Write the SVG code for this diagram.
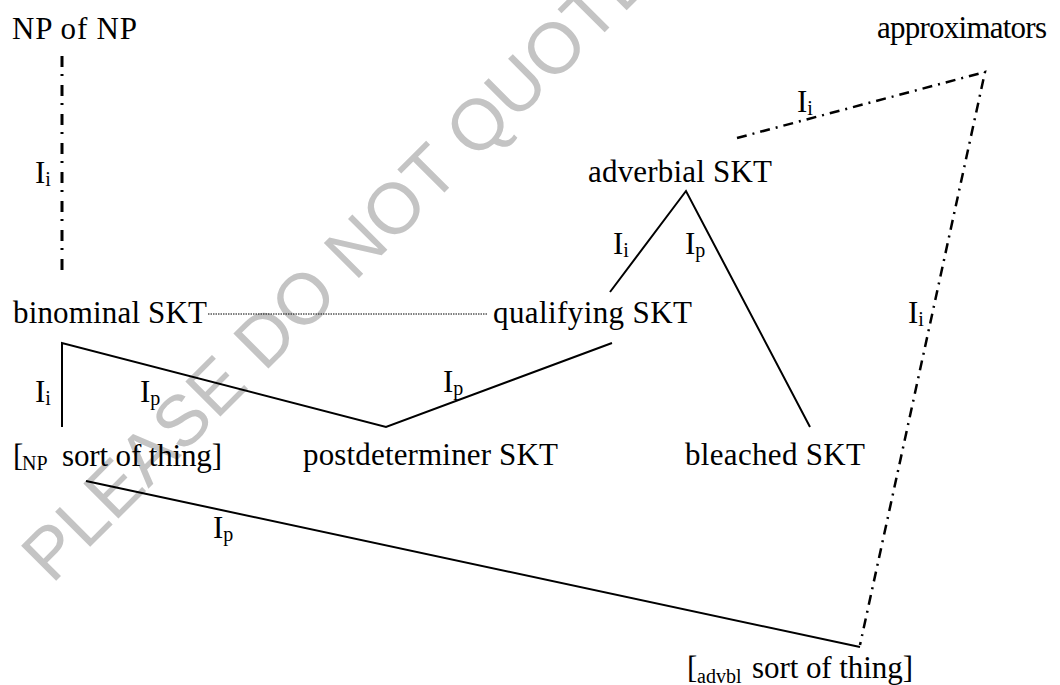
<svg xmlns="http://www.w3.org/2000/svg" width="1060" height="685" viewBox="0 0 1060 685" font-family="Liberation Serif, Times New Roman, Times, DejaVu Serif, serif">
<style>
.t{font-size:31px;fill:#000}
.s{font-size:20px;fill:#000}
.wm{font-size:72px;fill:#c4c4c4}
.solid{fill:none;stroke:#000;stroke-width:2}
.dd{fill:none;stroke:#000;stroke-width:3;stroke-dasharray:11 7 2 9}
.dd2{fill:none;stroke:#000;stroke-width:2.5;stroke-dasharray:10 6 2 6}
.dot{fill:none;stroke:#000;stroke-width:1;stroke-dasharray:1.5 1}
</style>
<rect width="1060" height="685" fill="#fff"/>
<text class="wm" font-family="Liberation Sans, Arial, sans-serif" transform="translate(52,585) rotate(-45)">PLEASE DO NOT QUOTE</text>
<g id="connectors">
<path class="dd" d="M62,56 V272"/>
<path class="dot" d="M208,314 H487"/>
<path class="solid" d="M610,292 L686,191 L810,427"/>
<path class="solid" d="M62,427 V343 L386,427 L612,343"/>
<path class="solid" d="M86,481 L860,647"/>
<path class="dd2" d="M737,138 L985,72 L860,645"/>
</g>
<g id="labels">
<text class="t" x="35" y="183">I<tspan class="s" dy="3">i</tspan></text>
<text class="t" x="797" y="112">I<tspan class="s" dy="3">i</tspan></text>
<text class="t" x="613" y="254">I<tspan class="s" dy="3">i</tspan></text>
<text class="t" x="685" y="254">I<tspan class="s" dy="3">p</tspan></text>
<text class="t" x="908" y="323">I<tspan class="s" dy="3">i</tspan></text>
<text class="t" x="35" y="402">I<tspan class="s" dy="3">i</tspan></text>
<text class="t" x="140" y="402">I<tspan class="s" dy="3">p</tspan></text>
<text class="t" x="443" y="392">I<tspan class="s" dy="3">p</tspan></text>
<text class="t" x="213" y="538">I<tspan class="s" dy="3">p</tspan></text>
</g>
<g id="node-np-of-np"><text class="t" x="12" y="39" textLength="125">NP of NP</text></g>
<g id="node-approximators"><text class="t" x="877" y="38" textLength="170">approximators</text></g>
<g id="node-adverbial"><text class="t" x="588" y="182" textLength="184">adverbial SKT</text></g>
<g id="node-binominal"><text class="t" x="13" y="323" textLength="194">binominal SKT</text></g>
<g id="node-qualifying"><text class="t" x="493" y="323" textLength="199">qualifying SKT</text></g>
<g id="node-np-sort"><text class="t" x="13" y="466">[</text><text class="s" x="22" y="470">NP</text><text class="t" x="62" y="466" textLength="160">sort of thing]</text></g>
<g id="node-postdeterminer"><text class="t" x="303" y="465" textLength="255">postdeterminer SKT</text></g>
<g id="node-bleached"><text class="t" x="685" y="465" textLength="180">bleached SKT</text></g>
<g id="node-advbl-sort"><text class="t" x="687" y="678">[</text><text class="s" x="697" y="683">advbl</text><text class="t" x="752" y="678" textLength="161">sort of thing]</text></g>
</svg>
